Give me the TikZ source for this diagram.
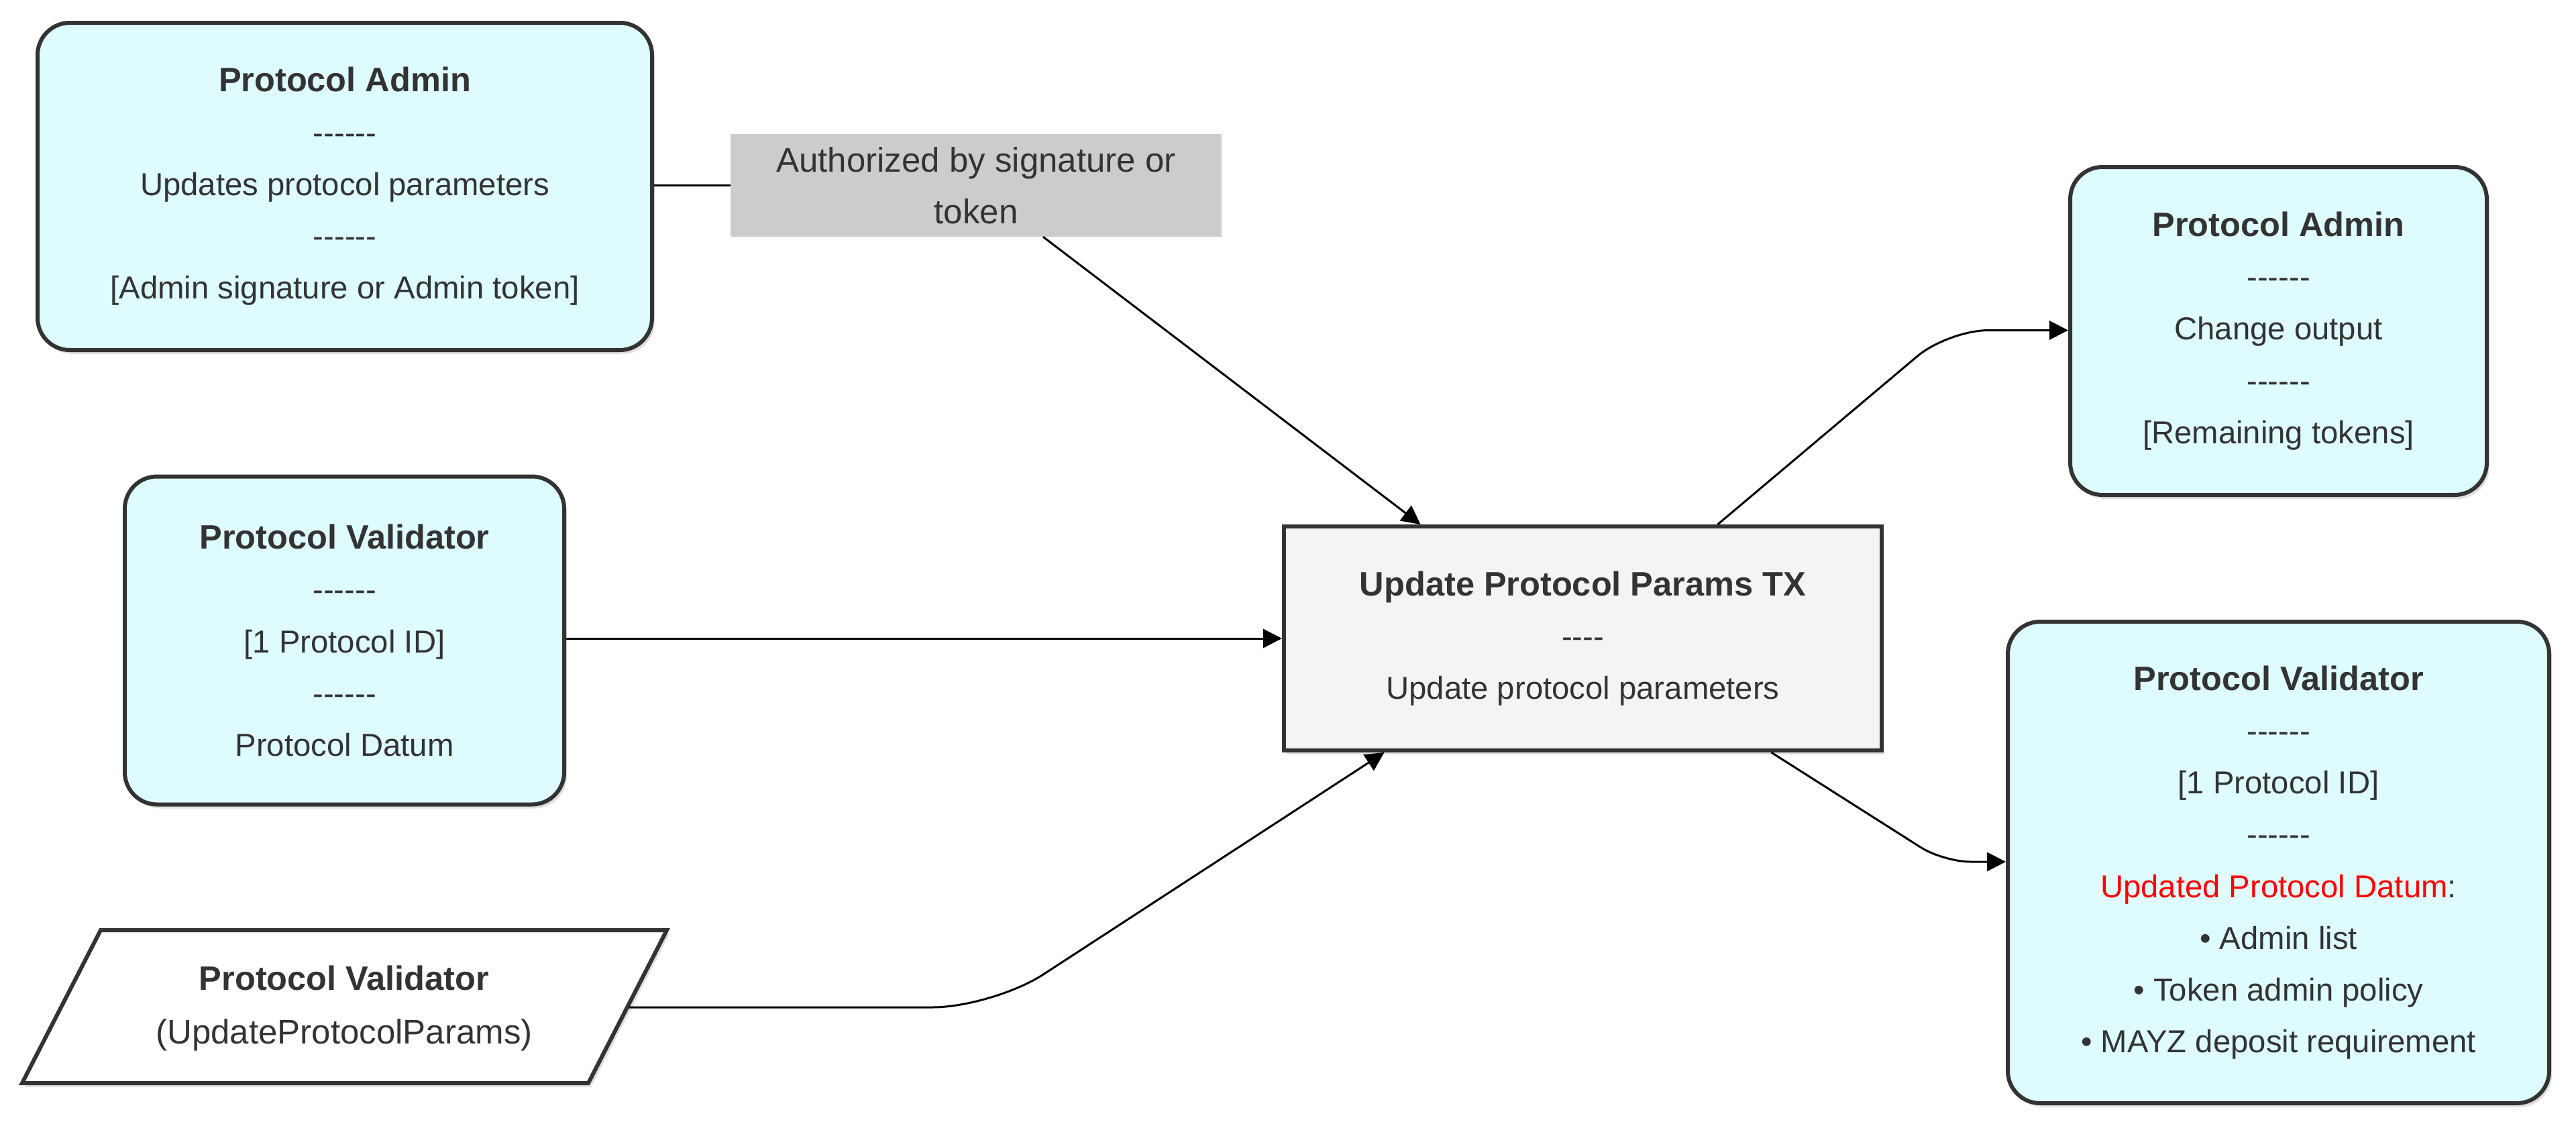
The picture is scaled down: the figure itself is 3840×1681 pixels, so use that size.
\documentclass[tikz,border=0pt]{standalone}
\usepackage{fontspec}
\setmainfont{Liberation Sans}
\usetikzlibrary{arrows.meta,shadows,calc}
\definecolor{boxfill}{HTML}{DEFBFD}
\definecolor{boxline}{HTML}{333333}
\definecolor{txt}{HTML}{333333}
\definecolor{txfill}{HTML}{F4F4F4}
\definecolor{lblfill}{HTML}{CCCCCC}
\definecolor{datumred}{HTML}{FF0000}
\newcommand{\ttl}[1]{{\fontsize{50.5}{77.2}\selectfont\bfseries #1}}
\newcommand{\sixdash}{-\kern0pt-\kern0pt-\kern0pt-\kern0pt-\kern0pt-}
\newcommand{\fourdash}{-\kern0pt-\kern0pt-\kern0pt-}
\begin{document}
\begin{tikzpicture}[x=1pt,y=-1pt,
  base/.style={align=center, text=txt, font=\fontsize{47.3}{77.2}\selectfont, inner sep=0pt},
  shad/.style={drop shadow={shadow xshift=4pt,shadow yshift=-6pt,opacity=0.12,fill=black}},
  utxo/.style={base, draw=boxline, fill=boxfill, line width=6pt, rounded corners=48pt, shad},
  txbox/.style={base, draw=boxline, fill=txfill, line width=6pt, shad},
  lbl/.style={base, fill=lblfill, font=\fontsize{51}{77.2}\selectfont},
  edge/.style={draw=black, line width=3pt},
  arr/.style={edge, -{Triangle[length=28pt,width=28pt]}}
]
\fill[white] (0,0) rectangle (3840,1681);
\useasboundingbox (0,0) rectangle (3840,1681);

% nodes
\node[utxo, minimum width=916pt, minimum height=488pt] (A1) at (514,278)
  {\ttl{Protocol Admin}\\ \sixdash\\ Updates protocol parameters\\ \sixdash\\ {[}Admin signature or Admin token{]}};
\node[utxo, minimum width=655pt, minimum height=489pt] (V1) at (513.5,955)
  {\ttl{Protocol Validator}\\ \sixdash\\ {[}1 Protocol ID{]}\\ \sixdash\\ Protocol Datum};
\node[lbl, minimum width=732pt, minimum height=153pt] (L) at (1455,276.5)
  {Authorized by signature or\\ token};
\node[txbox, minimum width=891pt, minimum height=334pt] (C) at (2359.5,952)
  {\ttl{Update Protocol Params TX}\\ \fourdash\\ Update protocol parameters};
\node[utxo, minimum width=621pt, minimum height=489pt] (A2) at (3396.5,493.5)
  {\ttl{Protocol Admin}\\ \sixdash\\ Change output\\ \sixdash\\ {[}Remaining tokens{]}};
\node[utxo, minimum width=807pt, minimum height=718pt] (V2) at (3396.5,1286)
  {\ttl{Protocol Validator}\\ \sixdash\\ {[}1 Protocol ID{]}\\ \sixdash\\ {\color{datumred}Updated Protocol Datum}:\\ • Admin list\\ • Token admin policy\\ • MAYZ deposit requirement};

% redeemer parallelogram
\draw[draw=boxline, fill=white, line width=6pt, line join=miter, shad]
  (150,1387) -- (994,1387) -- (877,1615) -- (33,1615) -- cycle;
\node[base, font=\fontsize{51}{80}\selectfont] (P) at (513,1503)
  {\ttl{Protocol Validator}\\ (UpdateProtocolParams)};
\coordinate (Pr) at (938,1502);

% bend points
\coordinate (b1) at (1480,1502);
\coordinate (b2) at (2904,492.5);
\coordinate (b3) at (2897,1285);

% connectors
\draw[edge] (A1.east |- L.west) -- (L.west);
\draw[arr] ([xshift=100pt]L.south) -- ([xshift=-242pt]C.north);
\draw[arr] (V1.east |- C.west) -- (C.west);
\draw[arr, rounded corners=90pt] (Pr) -- (b1) -- ([xshift=-296pt]C.south);
\draw[arr, rounded corners=60pt] ([xshift=201pt]C.north) -- (b2) -- (A2.west |- b2);
\draw[arr, rounded corners=40pt] ([xshift=281pt]C.south) -- (b3) -- (V2.west |- b3);
\end{tikzpicture}
\end{document}
